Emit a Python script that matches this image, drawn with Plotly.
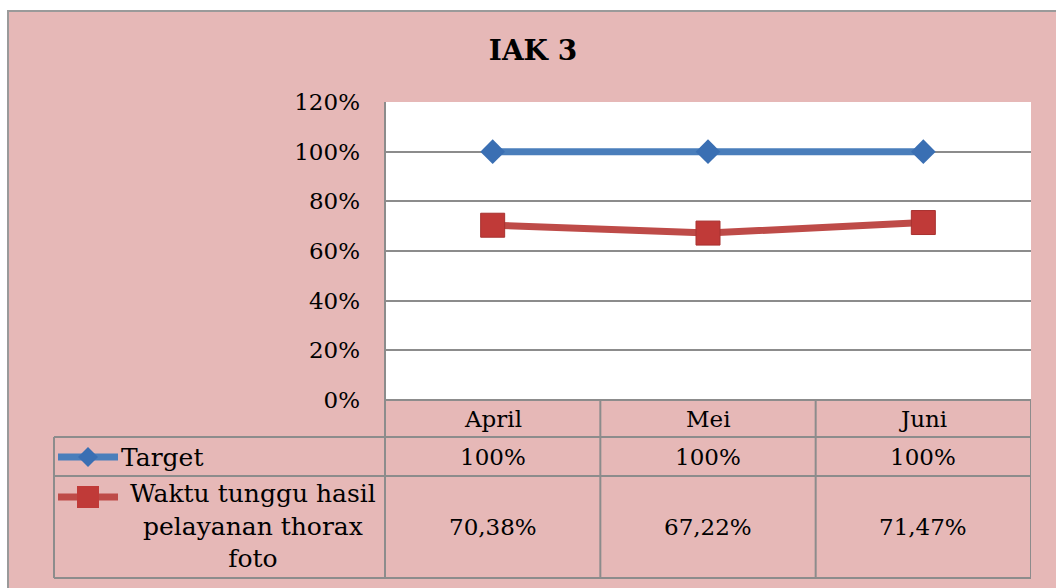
import plotly.graph_objects as go

# data
bulan = ["April", "Mei", "Juni"]
target = [1.00, 1.00, 1.00]
waktu_tunggu = [0.7038, 0.6722, 0.7147]
target_label = ["100%", "100%", "100%"]
waktu_label = ["70,38%", "67,22%", "71,47%"]
nama_seri = ["Target", "Waktu tunggu hasil<br>pelayanan thorax<br>foto"]
y_ticks = [0, 0.2, 0.4, 0.6, 0.8, 1.0, 1.2]

W, H = 1056, 588
PINK = "#E6B8B7"
GRID = "#8c8c8c"
BLUE = "#4A7EBB"
RED = "#BE4B48"
FONT = "DejaVu Serif"


def px(x):
    return x / W


def py(y):
    return 1 - y / H


# posisi area plot (px)
L, R, T, B = 385, 1031, 102, 400
row_lines = [437, 476, 578]
label_left = 54

fig = go.Figure()

fig.add_trace(go.Scatter(
    x=bulan, y=target, mode="lines+markers", name="Target",
    line=dict(color=BLUE, width=7),
    marker=dict(symbol="diamond", size=19, color="#3A6FB3"),
    cliponaxis=False))
fig.add_trace(go.Scatter(
    x=bulan, y=waktu_tunggu, mode="lines+markers", name="Waktu",
    line=dict(color=RED, width=7),
    marker=dict(symbol="square", size=24, color="#C03A38",
                line=dict(color="#A83230", width=1)),
    cliponaxis=False))

shapes = []
# latar pink + area plot putih
shapes.append(dict(type="rect", xref="paper", yref="paper", layer="below",
                   x0=px(8), x1=1.05, y0=-0.05, y1=py(11),
                   fillcolor=PINK, line=dict(color="#9a9a9a", width=2)))
shapes.append(dict(type="rect", xref="paper", yref="paper", layer="below",
                   x0=px(L), x1=px(R), y0=py(B), y1=py(T),
                   fillcolor="white", line=dict(width=0)))

# garis tabel
def hline(x0, x1, y):
    shapes.append(dict(type="line", xref="paper", yref="paper",
                       x0=px(x0), x1=px(x1), y0=py(y), y1=py(y),
                       line=dict(color=GRID, width=2)))


def vline(x, y0, y1):
    shapes.append(dict(type="line", xref="paper", yref="paper",
                       x0=px(x), x1=px(x), y0=py(y0), y1=py(y1),
                       line=dict(color=GRID, width=2)))


hline(L, R, B)
for yy in row_lines:
    hline(label_left, R, yy)
vline(L, T, row_lines[-1])
vline(label_left, row_lines[0], row_lines[-1])
for k in range(1, len(bulan) + 1):
    shapes.append(dict(type="line", xref="x", yref="paper",
                       x0=k - 0.5, x1=k - 0.5, y0=py(B), y1=py(row_lines[-1]),
                       line=dict(color=GRID, width=2)))

# kunci legenda di tabel
key_x0, key_x1, key_c = 58, 118, 88
for yy, col in [(457, BLUE), (497, RED)]:
    shapes.append(dict(type="line", xref="paper", yref="paper",
                       x0=px(key_x0), x1=px(key_x1), y0=py(yy), y1=py(yy),
                       line=dict(color=col, width=7)))
d = 10
shapes.append(dict(type="path", xref="paper", yref="paper",
                   path=f"M {px(key_c-d)} {py(457)} L {px(key_c)} {py(457-d)} "
                        f"L {px(key_c+d)} {py(457)} L {px(key_c)} {py(457+d)} Z",
                   fillcolor="#3A6FB3", line=dict(width=0)))
s = 11
shapes.append(dict(type="rect", xref="paper", yref="paper",
                   x0=px(key_c - s), x1=px(key_c + s), y0=py(497 - s), y1=py(497 + s),
                   fillcolor="#C03A38", line=dict(width=0)))

annotations = []
tf = dict(family=FONT, size=23, color="black")
lf = dict(family=FONT, size=25, color="black")
for i, b in enumerate(bulan):
    for yc, txt in [((B + row_lines[0]) / 2, b),
                    ((row_lines[0] + row_lines[1]) / 2, target_label[i]),
                    ((row_lines[1] + row_lines[2]) / 2, waktu_label[i])]:
        annotations.append(dict(x=b, xref="x", y=py(yc), yref="paper",
                                xanchor="center", yanchor="middle",
                                text=txt, showarrow=False, font=tf))

annotations.append(dict(x=px(119), y=py(457), xref="paper", yref="paper",
                        xanchor="left", yanchor="middle", text=nama_seri[0],
                        showarrow=False, font=lf))
annotations.append(dict(x=px(253), y=py(526), xref="paper", yref="paper",
                        xanchor="center", yanchor="middle", align="center",
                        text=nama_seri[1], showarrow=False, font=lf))

fig.update_layout(
    width=W, height=H,
    margin=dict(l=0, r=0, t=0, b=0, pad=0),
    paper_bgcolor="white",
    plot_bgcolor="rgba(0,0,0,0)",
    showlegend=False,
    title=dict(text="<b>IAK 3</b>", x=px(533), xanchor="center",
               y=py(50), yanchor="middle",
               font=dict(family=FONT, size=28, color="black")),
    xaxis=dict(domain=[px(L), px(R)], type="category", range=[-0.5, 2.5],
               showticklabels=False, showgrid=False, zeroline=False,
               showline=False, automargin=False),
    yaxis=dict(domain=[py(B), py(T)], range=[0, 1.2], tickvals=y_ticks,
               tickformat=".0%", showgrid=True, gridcolor=GRID, gridwidth=1.5,
               zeroline=False, showline=False, ticklabelstandoff=24,
               automargin=False,
               tickfont=dict(family=FONT, size=23, color="black")),
    shapes=shapes,
    annotations=annotations,
)

fig.write_html("out.html",
               config={"displayModeBar": False},
               post_script="document.body.style.margin='0';"
                           "document.body.style.overflow='hidden';")
